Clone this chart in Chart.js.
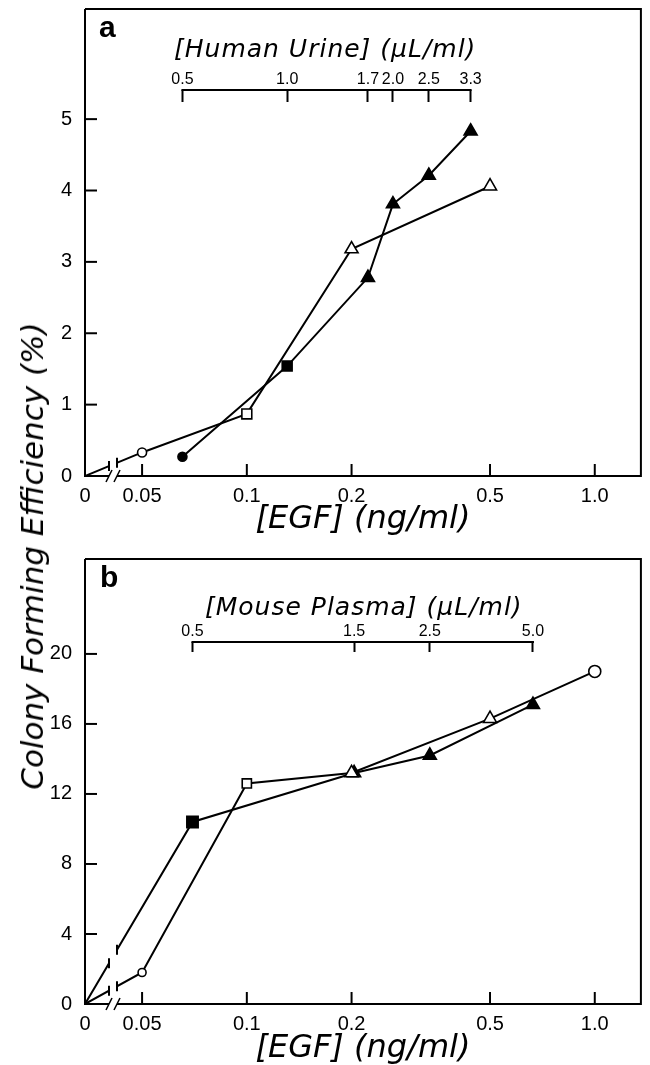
<!DOCTYPE html>
<html>
<head>
<meta charset="utf-8">
<script src="https://cdn.jsdelivr.net/npm/chart.js@4.4.0/dist/chart.umd.min.js"></script>
<style>
  html, body { margin: 0; padding: 0; background: #fff; overflow: hidden; }
  #wrap { position: relative; width: 650px; height: 1065px; }
  #chartA { position: absolute; left: 0; top: 0; }
  #chartB { position: absolute; left: 0; top: 541px; }
  #ytitle {
    position: absolute; left: 32px; top: 556px;
    transform: translate(-50%, -50%) rotate(-90deg);
    font: oblique 31px 'DejaVu Sans', sans-serif;
    white-space: nowrap; color: #000;
  }
</style>
</head>
<body>
<div id="wrap">
  <canvas id="chartA" width="650" height="541"></canvas>
  <canvas id="chartB" width="650" height="524"></canvas>
  <div id="ytitle">Colony Forming Efficiency (%)</div>
</div>
<script>
// bottom axis, EGF (ng/ml), broken between 0 and 0.05
const egfTicks = [0, 0.05, 0.1, 0.2, 0.5, 1.0];
const egfTickLabels = ['0', '0.05', '0.1', '0.2', '0.5', '1.0'];

// panel a - EGF alone (open symbols)
const egfA = [0, 0.05, 0.1, 0.2, 0.5];
const cfeEgfA = [0, 0.33, 0.87, 3.18, 4.06];
// panel a - human urine (filled symbols), plotted at EGF equivalent
const urineLabels = ['0.5', '1.0', '1.7', '2.0', '2.5', '3.3'];
const urineEgf = [0.0653, 0.1306, 0.2229, 0.263, 0.3334, 0.4397];
const cfeUrine = [0.27, 1.54, 2.78, 3.81, 4.21, 4.83];
const cfeTicksA = [0, 1, 2, 3, 4, 5];

// panel b - EGF alone (open symbols)
const egfB = [0, 0.05, 0.1, 0.2, 0.5, 1.0];
const cfeEgfB = [0, 1.8, 12.6, 13.2, 16.3, 19.0];
// panel b - mouse plasma (filled symbols), first point is the origin
const plasmaLabels = ['0.5', '1.5', '2.5', '5.0'];
const plasmaEgf = [0, 0.0698, 0.2034, 0.3357, 0.6643];
const cfePlasma = [0, 10.4, 13.2, 14.2, 17.1];
const cfeTicksB = [0, 4, 8, 12, 16, 20];

// axis range, zero is drawn at the left edge (axis break)
const X_MIN = 0.03427, X_MAX = 1.357;
const toX = v => (v === 0 ? X_MIN : v);
const pts = (xs, ys) => xs.map((v, i) => ({ x: toX(v), y: ys[i] }));

Chart.defaults.font.family = "'Liberation Sans', Arial, sans-serif";
Chart.defaults.color = '#000';

const framePlugin = {
  id: 'frame',
  afterDatasetsDraw(chart, args, o) {
    const { ctx, chartArea: { left, right, top, bottom } } = chart;
    const xs = chart.scales.x, ys = chart.scales.y, xt = chart.scales.x2;
    const b1 = left + 24, b2 = left + 32;
    ctx.save();
    // gap of the break
    ctx.fillStyle = '#fff';
    ctx.fillRect(b1, top, b2 - b1, bottom - top + 4);
    ctx.strokeStyle = '#000';
    ctx.lineWidth = 2;
    // little bars where a line is cut by the break
    chart.data.datasets.forEach((ds, i) => {
      const p = chart.getDatasetMeta(i).data;
      if (p.length < 2 || p[0].x > b1 || p[1].x < b2) return;
      [b1, b2].forEach(bx => {
        const t = (bx - p[0].x) / (p[1].x - p[0].x);
        const by = p[0].y + t * (p[1].y - p[0].y);
        ctx.beginPath();
        ctx.moveTo(bx, by - 5);
        ctx.lineTo(bx, by + 5);
        ctx.stroke();
      });
    });
    // frame
    ctx.beginPath();
    ctx.moveTo(left, o.boxTop);
    ctx.lineTo(left, bottom);
    ctx.lineTo(b1, bottom);
    ctx.moveTo(b2, bottom);
    ctx.lineTo(right, bottom);
    ctx.lineTo(right, o.boxTop);
    ctx.lineTo(left, o.boxTop);
    ctx.stroke();
    // break marks
    ctx.lineWidth = 1.6;
    [b1, b2].forEach(bx => {
      ctx.beginPath();
      ctx.moveTo(bx - 3, bottom + 6);
      ctx.lineTo(bx + 3, bottom - 6);
      ctx.stroke();
    });
    // inward ticks
    ctx.lineWidth = 2;
    ys.ticks.forEach(t => {
      if (t.value <= 0) return;
      const py = ys.getPixelForValue(t.value);
      ctx.beginPath(); ctx.moveTo(left, py); ctx.lineTo(left + 12, py); ctx.stroke();
    });
    xs.ticks.forEach(t => {
      if (t.value <= X_MIN) return;
      const px = xs.getPixelForValue(t.value);
      ctx.beginPath(); ctx.moveTo(px, bottom); ctx.lineTo(px, bottom - 12); ctx.stroke();
    });
    // bracket line of the top scale
    const tl = xt.options.grid.tickLength;
    ctx.beginPath();
    ctx.moveTo(xt.getPixelForValue(xt.ticks[0].value) - 1, top - tl);
    ctx.lineTo(xt.getPixelForValue(xt.ticks[xt.ticks.length - 1].value) + 1, top - tl);
    ctx.stroke();
    // panel letter and top scale title
    ctx.fillStyle = '#000';
    ctx.textBaseline = 'alphabetic';
    ctx.font = "bold 30px 'Liberation Sans', Arial, sans-serif";
    ctx.fillText(o.letter, o.letterX, o.letterY);
    ctx.textBaseline = 'middle';
    ctx.font = "italic 25px 'DejaVu Sans', sans-serif";
    ctx.letterSpacing = '1px';
    ctx.fillText(o.title, o.titleX, o.titleY);
    ctx.restore();
  }
};

function panel(id, o) {
  return new Chart(document.getElementById(id), {
    type: 'scatter',
    data: { datasets: o.datasets },
    options: {
      responsive: false,
      animation: false,
      events: [],
      layout: { padding: { left: 0, right: 5, top: 0, bottom: 0 } },
      plugins: { legend: { display: false }, tooltip: { enabled: false }, frame: o.frame },
      scales: {
        x: {
          type: 'logarithmic', position: 'bottom', min: X_MIN, max: X_MAX,
          grid: { display: false }, border: { display: false },
          afterBuildTicks: s => { s.ticks = egfTicks.map(v => ({ value: toX(v) })); },
          ticks: { autoSkip: false, maxRotation: 0, padding: 0, font: { size: 20 },
                   callback: (v, i) => egfTickLabels[i] },
          title: { display: true, text: '[EGF] (ng/ml)',
                   font: { family: "'DejaVu Sans', sans-serif", style: 'italic', size: 32, lineHeight: 1 },
                   padding: { top: 0, bottom: o.xTitlePad } },
          afterFit: s => { s.height = o.xHeight; }
        },
        x2: {
          type: 'logarithmic', position: 'top', min: X_MIN, max: X_MAX,
          grid: { display: true, drawOnChartArea: false, drawTicks: true,
                  tickLength: o.topTick, tickWidth: 2, tickColor: '#000' },
          border: { display: false },
          afterBuildTicks: s => { s.ticks = o.topX.map(v => ({ value: v })); },
          ticks: { autoSkip: false, maxRotation: 0, padding: 1, font: { size: 16 },
                   callback: (v, i) => o.topLabels[i] },
          afterFit: s => { s.height = o.topHeight; }
        },
        y: {
          min: 0, max: o.yMax,
          grid: { display: false }, border: { display: false },
          afterBuildTicks: s => { s.ticks = o.yTicks.map(v => ({ value: v })); },
          ticks: { padding: 5, font: { size: 20 } },
          afterFit: s => { s.width = 85; }
        }
      }
    },
    plugins: [framePlugin]
  });
}

const line = { borderColor: '#000', borderWidth: 2, showLine: true, fill: false,
               pointBorderColor: '#000', pointBorderWidth: 1.6 };

panel('chartA', {
  datasets: [
    Object.assign({}, line, {
      data: pts(egfA, cfeEgfA),
      pointStyle: ['circle', 'circle', 'rect', 'triangle', 'triangle'],
      pointRadius: [0, 4.5, 7, 7.5, 7.5],
      pointBackgroundColor: '#fff'
    }),
    Object.assign({}, line, {
      data: pts(urineEgf, cfeUrine),
      pointStyle: ['circle', 'rect', 'triangle', 'triangle', 'triangle', 'triangle'],
      pointRadius: [4.5, 7, 7.5, 7.5, 7.5, 7.5],
      pointBackgroundColor: '#000'
    })
  ],
  topX: urineEgf, topLabels: urineLabels, topTick: 12, topHeight: 102,
  xHeight: 65, xTitlePad: 5, yMax: 5.24, yTicks: cfeTicksA,
  frame: { boxTop: 9, letter: 'a', letterX: 99, letterY: 37,
           title: '[Human Urine] (\u03bcL/ml)', titleX: 174, titleY: 50 }
});

panel('chartB', {
  datasets: [
    Object.assign({}, line, {
      data: pts(egfB, cfeEgfB),
      pointStyle: ['circle', 'circle', 'rect', 'triangle', 'triangle', 'circle'],
      pointRadius: [0, 4, 6.5, 7.5, 7.5, 6],
      pointBackgroundColor: '#fff'
    }),
    Object.assign({}, line, {
      data: pts(plasmaEgf, cfePlasma),
      pointStyle: ['circle', 'rect', 'triangle', 'triangle', 'triangle'],
      pointRadius: [0, 8, 7.5, 7.5, 7.5],
      pointBackgroundColor: '#000'
    })
  ],
  topX: plasmaEgf.slice(1), topLabels: plasmaLabels, topTick: 10, topHeight: 111,
  xHeight: 61, xTitlePad: 0, yMax: 20.11, yTicks: cfeTicksB,
  frame: { boxTop: 18, letter: 'b', letterX: 100, letterY: 46,
           title: '[Mouse Plasma] (\u03bcL/ml)', titleX: 205, titleY: 67 }
});
</script>
</body>
</html>
